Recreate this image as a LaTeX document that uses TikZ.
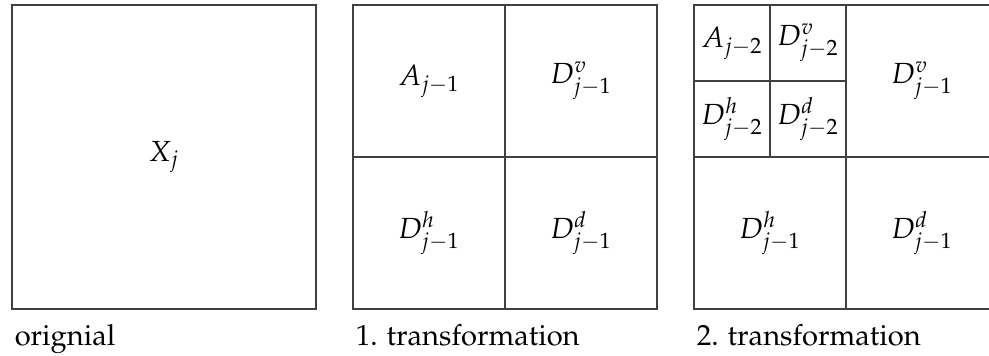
\documentclass[tikz,border=0pt]{standalone}
\usepackage[T1]{fontenc}
\usepackage{mathpazo}
\usetikzlibrary{positioning}

\begin{document}
\begin{tikzpicture}[
    sq/.style={rectangle, draw=black!75, line width=0.6pt, minimum size=4cm, inner sep=0pt, outer sep=0pt},
    sub/.style={draw=black!75, line width=0.6pt},
    lbl/.style={font=\fontsize{10.9}{12.5}\selectfont},
    captext/.style={anchor=base west, inner sep=0pt, font=\fontsize{10.9}{12.5}\selectfont}
]
    \useasboundingbox (0,0) rectangle (13.013,-4.684);

    % the three squares
    \node[sq] (orig) at (2.158,-2.066) {};
    \node[sq, right=0.487cm of orig] (first) {};
    \node[sq, right=0.487cm of first] (second) {};

    % original
    \node[lbl] (xj) at (orig.center) {$X_j$};

    % 1. transformation
    \draw[sub] (first.north) -- (first.south);
    \draw[sub] (first.west) -- (first.east);
    \node[lbl] (a1) at ([shift={(1,-1)}]first.north west) {$A_{j-1}$};
    \node[lbl] (v1) at ([shift={(3,-1)}]first.north west) {$D^v_{j-1}$};
    \node[lbl] (h1) at ([shift={(1,-3)}]first.north west) {$D^h_{j-1}$};
    \node[lbl] (d1) at ([shift={(3,-3)}]first.north west) {$D^d_{j-1}$};

    % 2. transformation
    \draw[sub] (second.north) -- (second.south);
    \draw[sub] (second.west) -- (second.east);
    \draw[sub] ([xshift=1cm]second.north west) -- ([xshift=1cm]second.west);
    \draw[sub] ([yshift=-1cm]second.north west) -- ([yshift=-1cm]second.north);
    \node[lbl] (a2) at ([shift={(0.5,-0.5)}]second.north west) {$A_{j-2}$};
    \node[lbl] (v2) at ([shift={(1.5,-0.5)}]second.north west) {$D^v_{j-2}$};
    \node[lbl] (h2) at ([shift={(0.5,-1.5)}]second.north west) {$D^h_{j-2}$};
    \node[lbl] (d2) at ([shift={(1.5,-1.5)}]second.north west) {$D^d_{j-2}$};
    \node[lbl] (v3) at ([shift={(3,-1)}]second.north west) {$D^v_{j-1}$};
    \node[lbl] (h3) at ([shift={(1,-3)}]second.north west) {$D^h_{j-1}$};
    \node[lbl] (d3) at ([shift={(3,-3)}]second.north west) {$D^d_{j-1}$};

    % captions
    \node[captext] (c0) at ([shift={(0.03,-0.475)}]orig.south west) {orignial};
    \node[captext] (c1) at ([shift={(0.03,-0.475)}]first.south west) {1. transformation};
    \node[captext] (c2) at ([shift={(0.03,-0.475)}]second.south west) {2. transformation};
\end{tikzpicture}
\end{document}
